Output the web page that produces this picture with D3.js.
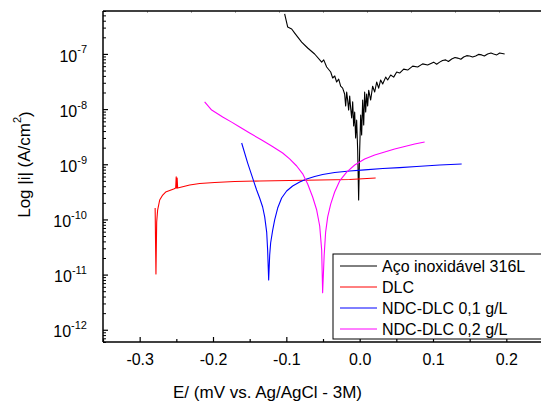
<!DOCTYPE html>
<html><head><meta charset="utf-8">
<script src="https://cdn.jsdelivr.net/npm/d3@7"></script>
<style>
body{margin:0;background:#fff;}
svg{display:block;font-family:"Liberation Sans",Arial,sans-serif;}
</style></head>
<body><svg id="c" width="541" height="403"></svg>
<script>
// ---- data ----
const seriesNames = ["Aço inoxidável 316L", "DLC", "NDC-DLC 0,1 g/L", "NDC-DLC 0,2 g/L"];
const seriesColors = ["#000000", "#ff0000", "#0000ff", "#ff00ff"];

const acoE = [-0.1023,-0.0982,-0.0927,-0.0886,-0.0791,-0.0709,-0.0614,-0.0518,-0.049,-0.045,-0.0395,-0.0368,-0.034,-0.0314,-0.0286,-0.0259,-0.0232,-0.0205,-0.0191,-0.0177,-0.0164,-0.015,-0.0136,-0.0123,-0.0109,-0.0095,-0.0082,-0.0068,-0.0055,-0.0041,-0.0027,-0.0014,0.0,0.0014,0.0027,0.0041,0.0055,0.0068,0.0082,0.0095,0.0109,0.0123,0.015,0.0177,0.0205,0.0232,0.0259,0.0286,0.0314,0.0355,0.0382,0.0423,0.0464,0.0505,0.0545,0.060,0.0655,0.0723,0.0791,0.0859,0.0927,0.1009,0.1050,0.1091,0.1130,0.1173,0.1210,0.1255,0.1300,0.1336,0.1380,0.1418,0.1460,0.150,0.1540,0.1582,0.1620,0.1664,0.1700,0.1745,0.1790,0.1827,0.1870,0.1909,0.1977];
const acoI = [5.3e-7,3.08e-7,2.83e-7,2.39e-7,1.64e-7,1.28e-7,9.97e-8,7.1e-8,7.8e-8,5.8e-8,4.7e-8,3.66e-8,3.98e-8,3.1e-8,3.5e-8,2.6e-8,2.4e-8,1.88e-8,1.14e-8,2.04e-8,1.46e-8,9.6e-9,1.73e-8,1.05e-8,6.9e-9,1.35e-8,4.95e-9,8.8e-9,3.0e-9,6.3e-9,1.8e-9,2.25e-10,1.8e-9,7.8e-9,3.4e-9,1.46e-8,5.15e-9,2.04e-8,8.85e-9,1.88e-8,1.14e-8,2.2e-8,1.46e-8,2.6e-8,2.04e-8,3.1e-8,2.4e-8,3.37e-8,2.85e-8,3.8e-8,3.37e-8,4.15e-8,3.8e-8,4.7e-8,4.5e-8,5.3e-8,5.1e-8,6.0e-8,5.8e-8,6.6e-8,6.3e-8,7.1e-8,6.5e-8,7.1e-8,7.6e-8,7.8e-8,7.3e-8,8.1e-8,8.6e-8,8.4e-8,8.0e-8,8.8e-8,9.3e-8,9.2e-8,8.8e-8,9.2e-8,9.8e-8,9.6e-8,9.2e-8,1.0e-7,1.04e-7,1.0e-7,9.6e-8,1.04e-7,1.0e-7];

const dlcE = [-0.2789,-0.2778,-0.2768,-0.2755,-0.2727,-0.2686,-0.2646,-0.2591,-0.2536,-0.2509,-0.2502,-0.2495,-0.2489,-0.2482,-0.2427,-0.2318,-0.2182,-0.1977,-0.1705,-0.1364,-0.0955,-0.0545,-0.0136,0.0218];
const dlcI = [1.61e-10,1.03e-11,9.0e-11,1.48e-10,2.25e-10,2.77e-10,3.14e-10,3.34e-10,3.56e-10,3.7e-10,5.9e-10,3.7e-10,5.6e-10,3.7e-10,3.87e-10,4.2e-10,4.48e-10,4.67e-10,4.87e-10,4.98e-10,5.08e-10,5.19e-10,5.3e-10,5.64e-10];

const ndc1E = [-0.1609,-0.1527,-0.1459,-0.1405,-0.1364,-0.1323,-0.1295,-0.1268,-0.1255,-0.1241,-0.1227,-0.1214,-0.1186,-0.1159,-0.1118,-0.1064,-0.0996,-0.0914,-0.0818,-0.0723,-0.0614,-0.0505,-0.0341,-0.0136,0.0068,0.0314,0.0545,0.0777,0.1091,0.1391];
const ndc1I = [2.43e-9,1.05e-9,5.6e-10,3.41e-10,2.45e-10,1.68e-10,1.11e-10,5.9e-11,2.79e-11,7.98e-12,2.27e-11,3.74e-11,6.4e-11,9.8e-11,1.61e-10,2.45e-10,3.27e-10,4.04e-10,4.77e-10,5.4e-10,6.0e-10,6.5e-10,7.1e-10,7.55e-10,7.9e-10,8.4e-10,8.7e-10,9.1e-10,9.7e-10,1.01e-9];

const ndc2E = [-0.2114,-0.2018,-0.1868,-0.1746,-0.1636,-0.15,-0.1336,-0.12,-0.105,-0.0955,-0.0859,-0.0777,-0.0709,-0.0641,-0.0586,-0.0545,-0.0518,-0.0505,-0.0484,-0.0464,-0.0436,-0.0395,-0.0341,-0.0273,-0.0177,-0.0068,0.0068,0.0205,0.0341,0.0477,0.0614,0.075,0.0886];
const ndc2I = [1.35e-8,9.6e-9,7.2e-9,5.8e-9,4.73e-9,3.68e-9,2.75e-9,2.14e-9,1.6e-9,1.25e-9,9.3e-10,6.7e-10,4.39e-10,2.55e-10,1.48e-10,7.6e-11,2.79e-11,4.7e-12,2.27e-11,5.9e-11,1.11e-10,1.9e-10,3.14e-10,4.98e-10,7.2e-10,9.7e-10,1.25e-9,1.47e-9,1.67e-9,1.89e-9,2.1e-9,2.33e-9,2.53e-9];

const xTicks = [-0.3,-0.2,-0.1,0.0,0.1,0.2];
const xMinorTicks = [-0.35,-0.25,-0.15,-0.05,0.05,0.15,0.25];
const yExponents = [-12,-11,-10,-9,-8,-7];
const xTitle = "E/ (mV vs. Ag/AgCl - 3M)";
const yTitle = "Log |i| (A/cm";

// ---- layout ----
const svg = d3.select("#c");
const L = 103, R = 543, T = 11, B = 342;
const x = d3.scaleLinear().domain([-0.35, 0.25]).range([L, R]);
const y = d3.scaleLog().domain([6e-13, 6e-7]).range([B, T]);
const xTop = d3.scaleLinear().domain([0, 10]).range([L, R]);

const series = [[acoE, acoI],[dlcE, dlcI],[ndc1E, ndc1I],[ndc2E, ndc2I]];

const clip = svg.append("clipPath").attr("id","pc").append("rect")
  .attr("x", L).attr("y", T).attr("width", R-L).attr("height", B-T);

const line = d3.line().x(d=>x(d[0])).y(d=>y(d[1]));
const g = svg.append("g").attr("clip-path","url(#pc)");
series.forEach((s,k)=>{
  const pts = s[0].map((e,i)=>[e, s[1][i]]);
  g.append("path").datum(pts).attr("d", line).attr("fill","none")
    .attr("stroke", seriesColors[k]).attr("stroke-width", 1.1).attr("stroke-linejoin","round");
});

// top grey ticks
const topAx = svg.append("g").attr("transform",`translate(0,${T})`)
  .call(d3.axisTop(xTop).tickValues(d3.range(1,10)).tickSize(-2).tickFormat(""));
topAx.select(".domain").remove();
topAx.selectAll("line").attr("stroke","#aaa");

// frame top/right
svg.append("line").attr("x1",L).attr("x2",R).attr("y1",T).attr("y2",T).attr("stroke","#000").attr("stroke-width",1.5);
svg.append("line").attr("x1",R).attr("x2",R).attr("y1",T).attr("y2",B).attr("stroke","#000").attr("stroke-width",1.5);

// x axis
const xa = svg.append("g").attr("transform",`translate(0,${B})`)
  .call(d3.axisBottom(x).tickValues(xTicks).tickSize(-5).tickPadding(12).tickFormat(d3.format(".1f")));
xa.select(".domain").attr("stroke-width",1.5).attr("d",`M${L},0H${R}`);
xa.selectAll("text").attr("font-size",16).attr("font-family","Liberation Sans, Arial, sans-serif").attr("fill","#000")
  .text(d=>d3.format(".1f")(d).replace("−","-"));
xa.selectAll("line").attr("stroke-width",1.2);
const xm = svg.append("g").attr("transform",`translate(0,${B})`)
  .call(d3.axisBottom(x).tickValues(xMinorTicks).tickSize(-3).tickFormat(""));
xm.select(".domain").remove();
xm.selectAll("line").attr("stroke-width",1.2);

// y axis
const yMaj = yExponents.map(e=>Math.pow(10,e));
const yMin = [];
for (let e=-13; e<=-7; e++) for (let m=2; m<=9; m++){ const v=m*Math.pow(10,e); if (v>=6e-13 && v<=6e-7) yMin.push(v); }
const ya = svg.append("g").attr("transform",`translate(${L},0)`)
  .call(d3.axisLeft(y).tickValues(yMaj).tickSize(-5).tickPadding(16).tickFormat(""));
ya.select(".domain").attr("stroke-width",1.5).attr("d",`M0,${B}V${T}`);
ya.selectAll("line").attr("stroke-width",1.2);
const ym = svg.append("g").attr("transform",`translate(${L},0)`)
  .call(d3.axisLeft(y).tickValues(yMin).tickSize(-3).tickFormat(""));
ym.select(".domain").remove();
ym.selectAll("line").attr("stroke-width",1);

ya.selectAll(".tick").each(function(d,i){
  const t = d3.select(this).select("text");
  t.attr("font-size",16).attr("fill","#000").attr("x",-16).attr("dy","0.45em").attr("text-anchor","end");
  t.append("tspan").text("10");
  t.append("tspan").attr("font-size",11).attr("dy","-0.75em").text(String(yExponents[i]).replace("−","-"));
});

// titles
svg.append("text").attr("x", (L+430)/2 + 1).attr("y", 398).attr("text-anchor","middle")
  .attr("font-size",17).text(xTitle);
const yt = svg.append("text").attr("transform",`translate(30,${(T+B)/2 - 12}) rotate(-90)`)
  .attr("text-anchor","middle").attr("font-size",17);
yt.append("tspan").text(yTitle);
yt.append("tspan").attr("font-size",11).attr("dy","-0.8em").text("2");
yt.append("tspan").attr("dy","0.55em").text(")");

// legend
const lg = svg.append("g");
lg.append("rect").attr("x",333).attr("y",254).attr("width",215).attr("height",85)
  .attr("fill","#fff").attr("stroke","#000").attr("stroke-width",1);
const ly = d3.scalePoint().domain(seriesNames).range([266, 329]);
seriesNames.forEach((n,k)=>{
  lg.append("line").attr("x1",340).attr("x2",377).attr("y1",ly(n)).attr("y2",ly(n))
    .attr("stroke",seriesColors[k]).attr("stroke-width",1);
  lg.append("text").attr("x",382).attr("y",ly(n)).attr("dy","0.36em").attr("font-size",16).text(n);
});
</script></body></html>
